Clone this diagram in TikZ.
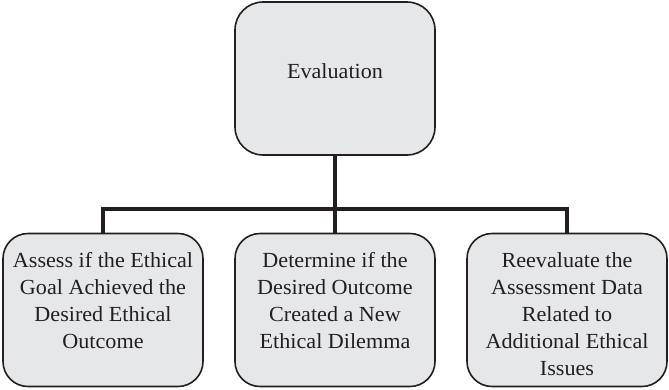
\documentclass[tikz,border=0pt]{standalone}
\usepackage{xcolor}
\usepackage{fontspec}
\setmainfont{Liberation Serif}[FakeStretch=1.03]
\definecolor{boxfill}{HTML}{E6E7E8}
\definecolor{ink}{HTML}{231F20}
\begin{document}
\begin{tikzpicture}[x=1pt,y=-1pt,
  box/.style={draw=ink, fill=boxfill, line width=1.6pt, rectangle,
    minimum width=200pt, minimum height=153pt, inner sep=0pt},
  topbox/.style={box, rounded corners=28pt},
  leafbox/.style={box, rounded corners=25pt},
  label/.style={text=ink, inner sep=0pt, align=center,
    font=\fontsize{21.5}{27.1}\selectfont},
  conn/.style={draw=ink, line width=3.6pt}]
  \useasboundingbox (0,0) rectangle (669,389);

  % top box
  \node[topbox] (eval) at (335,78.5) {};
  \node[label] (evalt) at (335,71) {Evaluation};

  % three leaf boxes
  \node[leafbox] (a) at (103,310) {};
  \node[leafbox] (b) at (335,310) {};
  \node[leafbox] (c) at (567,310) {};

  \node[label, anchor=north] (at) at (103,252)
    {Assess if the Ethical\\Goal Achieved the\\Desired Ethical\\Outcome};
  \node[label, anchor=north] (bt) at (335,252)
    {Determine if the\\Desired Outcome\\Created a New\\Ethical Dilemma};
  \node[label, anchor=north] (ct) at (567,252)
    {Reevaluate the\\Assessment Data\\Related to\\Additional Ethical\\Issues};

  % tree connectors
  \coordinate (bus) at (335,209);
  \draw[conn] (eval.south) -- (bus);
  \draw[conn] (a.north) |- (bus) -| (c.north);
  \draw[conn] (bus) -- (b.north);
\end{tikzpicture}
\end{document}
